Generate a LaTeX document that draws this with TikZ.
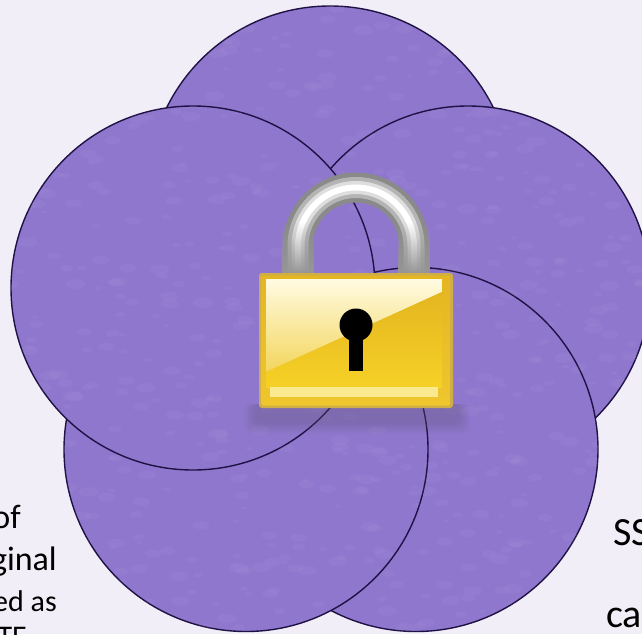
\documentclass[tikz,border=0pt]{standalone}
\usepackage{fontspec}
\setmainfont{Carlito}
\usetikzlibrary{fadings}
\definecolor{paper}{HTML}{F2EEF7}
\definecolor{petalfill}{HTML}{9077CE}
\definecolor{petalline}{HTML}{1E1245}
\definecolor{steel}{HTML}{8A8A8A}
\definecolor{steelmid}{HTML}{B4B4B4}
\definecolor{steellight}{HTML}{DEDEDE}
\definecolor{brass}{HTML}{CFAE45}
\definecolor{brassframe}{HTML}{EFC62E}
\definecolor{brassdark}{HTML}{E4B621}
\definecolor{brasslight}{HTML}{F6D126}
\definecolor{cream}{HTML}{FFFBE2}
\definecolor{creamlow}{HTML}{F3D65C}
\definecolor{strip}{HTML}{FBE98F}
\definecolor{shadowgrey}{HTML}{5F5A7A}
\tikzset{
  every node/.style={text=black},
  petal/.style={draw=petalline, fill=petalfill, line width=1.4pt},
  sidetext/.style={font=\fontsize{34}{34}\selectfont, inner sep=0pt},
  smalltext/.style={font=\fontsize{30}{30}\selectfont, inner sep=0pt},
  edgetext/.style={font=\fontsize{40}{40}\selectfont, inner sep=0pt},
}
\begin{document}
\begin{tikzpicture}[x=1pt, y=-1pt]
  \useasboundingbox (0,0) rectangle (642,634);
  \fill[paper] (0,0) rectangle (642,634);
  \clip (0,0) rectangle (642,634);

  % ---- captions, cut by the edge ------------------------------------------
  \node[sidetext, anchor=base east] (capa) at (21,528) {of};
  \node[sidetext, anchor=base east] (capb) at (57,570) {ginal};
  \node[smalltext, anchor=base east] (capc) at (57,611) {ed as};
  \node[smalltext, anchor=base east] (capd) at (27,646) {TE};
  \node[edgetext, anchor=base west] (capr) at (613,545) {SS};
  \node[edgetext, anchor=base west] (caps) at (606,627) {ca};

  % ---- petals, back to front ----------------------------------------------
  \foreach \px/\py/\pname in {330/188/ptop, 468/288/pright, 416/449.5/pbr, 246/449.5/pbl, 193/288/pleft} {
    \node[petal, circle, minimum size=364pt, inner sep=0pt] (\pname) at (\px,\py) {};
  }

  % paper grain
  \pgfmathsetseed{41}
  \foreach \i in {1,...,700} {
    \pgfmathsetmacro{\gx}{rnd*642}
    \pgfmathsetmacro{\gy}{rnd*634}
    \pgfmathsetmacro{\gw}{3+rnd*7}
    \fill[white, opacity=0.035] (\gx,\gy) ellipse[x radius=\gw pt, y radius=0.5*\gw pt];
  }

  % ---- padlock ------------------------------------------------------------
  \foreach \sh in {0,2,...,12} {
    \fill[shadowgrey, opacity=0.055, rounded corners=6pt] (244+\sh,404) rectangle (470-\sh,434-\sh);
  }
  % shackle
  \draw[steel, line width=30pt] (298,273) -- (298,245.5) arc[start angle=180, end angle=0, radius=58pt] -- (414,273);
  \draw[steelmid, line width=21pt] (298,273) -- (298,245.5) arc[start angle=180, end angle=0, radius=58pt] -- (414,273);
  \draw[steellight, line width=13pt] (298,273) -- (298,245.5) arc[start angle=180, end angle=0, radius=58pt] -- (414,273);
  \draw[white, line width=6pt] (298,273) -- (298,245.5) arc[start angle=180, end angle=0, radius=58pt] -- (414,273);
  \fill[steel!90!white, path fading=north] (282,222) rectangle (314,273);
  \fill[steel!90!white, path fading=north] (398,222) rectangle (430,273);
  % body
  \fill[brass, rounded corners=3pt] (259,273) rectangle (453,408);
  \shade[rounded corners=2pt, top color=brassdark, bottom color=brassframe] (261.5,275.5) rectangle (450.5,405.5);
  \shade[top color=cream, bottom color=creamlow] (266,279) -- (442,279) -- (442,292) -- (266,372) -- cycle;
  \shade[top color=brassdark, bottom color=brasslight] (266,372) -- (442,292) -- (442,388) -- (266,388) -- cycle;
  \fill[strip] (270,387) rectangle (438,397);
  % keyhole
  \fill[black] (356,325) circle[radius=16.5pt];
  \fill[black] (349,330) rectangle (363,371);
\end{tikzpicture}
\end{document}
